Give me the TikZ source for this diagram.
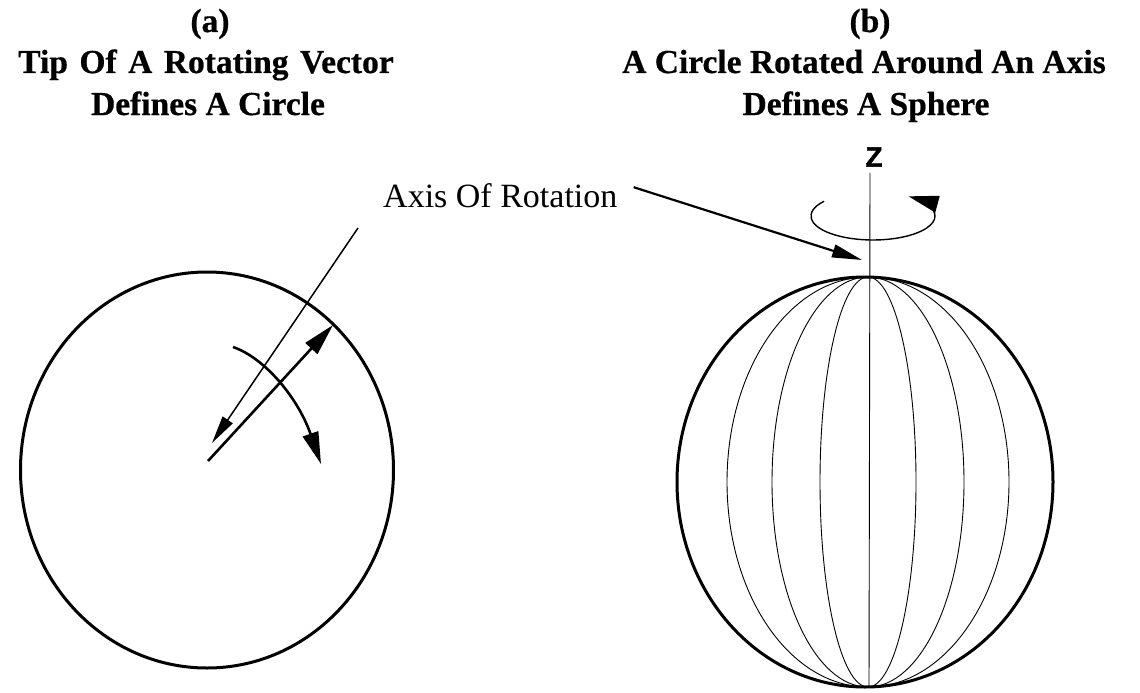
\documentclass[tikz,border=0pt]{standalone}
\usepackage{fontspec}
\setmainfont{Liberation Serif}
\newfontfamily\titlefont{Liberation Serif}[FakeBold=0.6]
\newfontfamily\zfont{Liberation Sans}[FakeBold=1.5]
\usetikzlibrary{arrows.meta}
\tikzset{
  titletext/.style={font=\titlefont\bfseries\fontsize{33.5}{36}\selectfont, inner sep=0pt, anchor=base},
  labeltext/.style={font=\fontsize{34}{38}\selectfont, inner sep=0pt},
  thickoutline/.style={line width=3pt},
  meridian/.style={line width=0.9pt},
  vecarrow/.style={line width=2.6pt, -{Triangle[length=32pt,width=16pt]}},
  thinarrow/.style={line width=1.5pt, -{Triangle[length=28pt,width=12pt]}},
  rotarrow/.style={line width=2.6pt, -{Triangle[length=32pt,width=16pt]}},
  labelarrow/.style={line width=2.2pt, -{Triangle[length=30pt,width=13pt]}},
  spinarrow/.style={line width=1.4pt, -{Triangle[length=30pt,width=17pt]}}
}
\begin{document}
\begin{tikzpicture}[x=1pt,y=-1pt]
\useasboundingbox (0,0) rectangle (1140,693);
% titles
\node[titletext] (ta1) at (210,32) {(a)};
\node[titletext] (ta2) at (206,73) {\spaceskip=11.5pt Tip Of A Rotating Vector};
\node[titletext] (ta3) at (208,115) {Defines A Circle};
\node[titletext] (tb1) at (870,32) {(b)};
\node[titletext] (tb2) at (864,73) {A Circle Rotated Around An Axis};
\node[titletext] (tb3) at (866,115) {Defines A Sphere};
% left circle
\draw[thickoutline] (207,470) ellipse [x radius=186.5pt, y radius=198pt];
\coordinate (vbase) at (208,461);
\coordinate (vtip) at (333,325);
\coordinate (ltop) at (358,228);
\coordinate (lend) at (212,443);
\coordinate (cstart) at (233,347);
\coordinate (cend) at (321,464);
\draw[thinarrow] (ltop) -- (lend);
\draw[vecarrow] (vbase) -- (vtip);
\draw[rotarrow] (cstart) .. controls (265,358) and (298,398) .. (cend);
% label
\node[labeltext, anchor=base west] (lab) at (383,207) {Axis Of Rotation};
\coordinate (pole) at (862,260);
\draw[labelarrow] ([xshift=16pt,yshift=8pt]lab.east) -- (pole);
% sphere
\draw[thickoutline] (865,482) ellipse [x radius=188pt, y radius=205pt];
\foreach \r in {48,96,141} {
  \draw[meridian] (868,482) ellipse [x radius=\r pt, y radius=205pt];
}
\node[font={\zfont\bfseries\fontsize{28}{28}\selectfont}, inner sep=0pt] (z) at (874,157) {Z};
\draw[meridian] (z.south) ++(-4pt,-6pt) coordinate (atop) -- (869,687);
\draw[spinarrow] (873,216) ++(142:62pt and 24pt) arc[start angle=142, end angle=415, x radius=62pt, y radius=24pt];
\end{tikzpicture}
\end{document}
